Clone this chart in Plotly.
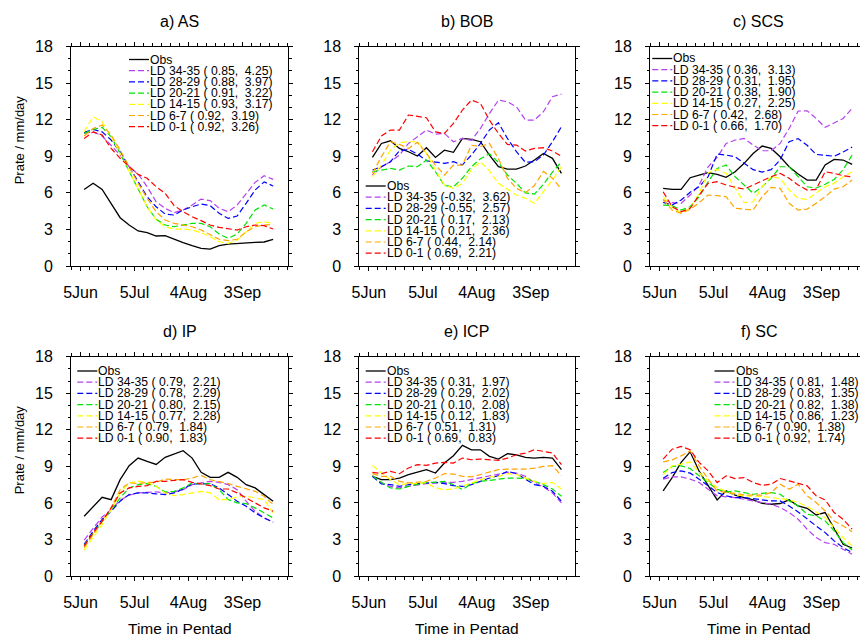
import plotly.graph_objects as go

W, H = 860, 637

# ---------------- data ----------------
pentad_day = [2, 7, 12, 17, 22, 27, 32, 37, 42, 47, 52, 57, 62, 67, 72, 77, 82, 87, 92, 97, 102, 107]  # days after 5 Jun
tick_days = [0, 30, 60, 90]
tick_labels = ["5Jun", "5Jul", "4Aug", "3Sep"]

series_names = ["Obs", "LD 34-35", "LD 28-29", "LD 20-21", "LD 14-15", "LD 6-7", "LD 0-1"]
series_colors = ["#000000", "#b441f0", "#0000ff", "#00e400", "#ffff00", "#ffa500", "#ff0000"]

AS = [
    [6.28, 6.78, 6.28, 5.14, 3.96, 3.36, 2.87, 2.73, 2.46, 2.49, 2.19, 1.91, 1.67, 1.45, 1.39, 1.67, 1.80, 1.86, 1.91, 1.94, 1.97, 2.19],
    [10.87, 11.0, 10.66, 9.92, 9.1, 8.14, 7.54, 6.5, 5.27, 4.73, 4.37, 4.6, 5.0, 5.49, 5.36, 4.73, 4.45, 5.0, 5.96, 6.86, 7.4, 7.1],
    [10.96, 11.2, 11.0, 10.33, 9.37, 8.14, 6.9, 5.68, 4.86, 4.26, 4.18, 4.6, 4.86, 5.08, 4.95, 4.32, 3.9, 4.1, 5.14, 6.23, 6.9, 6.56],
    [10.87, 11.2, 11.37, 10.6, 9.23, 7.73, 6.23, 4.86, 3.83, 3.36, 3.22, 3.36, 3.5, 3.5, 3.22, 2.62, 2.27, 2.62, 3.5, 4.6, 5.0, 4.67],
    [11.0, 12.24, 11.83, 10.6, 9.23, 7.73, 6.23, 4.86, 3.77, 3.22, 3.03, 3.03, 2.95, 2.73, 2.4, 1.99, 1.86, 2.13, 2.81, 3.5, 3.63, 3.5],
    [10.66, 11.28, 11.56, 10.74, 9.51, 8.14, 6.78, 5.55, 4.45, 3.77, 3.5, 3.36, 3.22, 2.95, 2.54, 2.19, 2.08, 2.19, 2.81, 3.22, 3.36, 3.42],
    [10.46, 11.0, 10.74, 9.64, 8.83, 8.14, 7.51, 7.19, 6.5, 5.96, 4.95, 4.45, 4.04, 3.72, 3.36, 3.17, 3.06, 2.95, 3.22, 3.36, 3.31, 3.03],
]
BOB = [
    [8.9, 10.05, 10.27, 9.64, 9.37, 9.02, 9.7, 8.9, 9.5, 9.32, 10.46, 10.38, 10.19, 9.1, 8.14, 7.95, 7.95, 8.2, 8.69, 9.23, 8.83, 7.6],
    [7.46, 8.14, 8.55, 9.1, 10.05, 10.6, 11.15, 10.82, 10.87, 10.19, 10.46, 10.3, 11.28, 12.5, 13.6, 13.47, 13.06, 11.97, 11.97, 12.65, 13.88, 14.1],
    [7.87, 8.14, 8.55, 9.45, 9.56, 9.18, 8.63, 8.55, 8.42, 8.55, 8.3, 9.1, 10.05, 11.15, 11.75, 10.46, 9.37, 8.5, 8.55, 9.1, 10.19, 11.42],
    [7.73, 7.87, 8.0, 7.87, 8.2, 8.14, 8.69, 7.73, 6.6, 6.5, 7.2, 8.14, 8.8, 9.2, 8.5, 7.46, 6.78, 6.0, 5.9, 6.7, 7.7, 8.55],
    [7.32, 8.28, 9.5, 10.1, 10.19, 10.19, 9.23, 7.87, 6.64, 6.37, 6.78, 7.9, 8.55, 7.8, 6.78, 6.28, 5.82, 5.55, 5.14, 6.1, 7.05, 8.14],
    [7.6, 8.96, 10.19, 9.97, 9.64, 10.14, 9.23, 8.28, 7.46, 8.28, 8.28, 9.9, 9.8, 10.05, 8.8, 7.2, 6.37, 6.0, 6.6, 7.75, 7.2, 6.3],
    [9.37, 10.66, 11.15, 11.15, 12.38, 12.3, 12.16, 11.0, 10.87, 11.69, 12.79, 13.6, 13.33, 11.97, 10.87, 9.97, 9.92, 9.43, 9.64, 9.7, 9.43, 9.0],
]
SCS = [
    [6.37, 6.28, 6.28, 7.24, 7.46, 7.65, 7.51, 7.27, 7.73, 8.42, 9.23, 9.84, 9.64, 8.96, 8.14, 7.54, 7.05, 7.05, 8.28, 8.74, 8.69, 8.33],
    [5.41, 5.19, 5.14, 5.82, 6.64, 8.14, 8.9, 10.05, 10.33, 10.46, 9.92, 9.45, 9.45, 10.05, 11.28, 12.7, 12.73, 12.1, 11.37, 11.75, 12.1, 12.92],
    [5.22, 5.0, 5.41, 6.04, 6.5, 7.32, 9.18, 9.1, 8.95, 8.4, 7.9, 7.7, 7.9, 8.7, 10.2, 10.45, 9.9, 9.15, 9.1, 9.0, 9.35, 9.75],
    [5.0, 4.95, 4.59, 4.86, 5.68, 6.91, 8.0, 8.28, 7.32, 6.64, 5.96, 6.5, 7.19, 8.14, 8.14, 7.32, 6.5, 6.4, 6.7, 7.1, 7.9, 9.1],
    [5.68, 4.81, 4.37, 4.73, 5.96, 7.65, 7.92, 7.6, 6.4, 5.2, 5.25, 6.5, 7.32, 7.19, 6.23, 5.55, 5.46, 5.96, 6.5, 6.78, 7.32, 7.73],
    [5.46, 4.59, 4.32, 4.64, 5.19, 5.82, 5.77, 5.68, 4.73, 4.67, 4.59, 5.68, 6.45, 6.37, 5.14, 4.59, 4.67, 5.14, 5.68, 6.31, 6.5, 7.05],
    [6.09, 4.86, 4.45, 4.73, 5.82, 6.78, 6.91, 6.64, 6.45, 6.31, 6.64, 6.99, 7.32, 7.6, 7.19, 6.64, 6.23, 6.28, 7.73, 7.6, 7.4, 7.32],
]
IP = [
    [4.91, 5.73, 6.46, 6.27, 7.91, 9.05, 9.68, 9.41, 9.16, 9.74, 10.0, 10.28, 9.68, 8.51, 8.1, 8.1, 8.51, 8.1, 7.5, 7.23, 6.68, 6.14],
    [2.95, 3.95, 4.85, 5.45, 6.22, 6.63, 6.82, 6.87, 6.9, 6.82, 6.9, 7.09, 7.5, 7.64, 7.77, 7.69, 7.5, 7.09, 6.14, 5.32, 4.77, 4.42],
    [2.59, 3.68, 4.64, 5.32, 6.14, 6.68, 6.82, 6.82, 6.74, 6.68, 6.82, 7.14, 7.55, 7.58, 7.58, 7.23, 6.68, 6.14, 5.73, 5.18, 4.77, 4.42],
    [2.51, 3.49, 4.55, 5.45, 6.41, 7.23, 7.5, 7.58, 7.36, 6.9, 6.95, 7.23, 7.64, 7.55, 7.58, 7.09, 6.27, 6.0, 5.94, 5.59, 5.18, 4.77],
    [2.13, 3.14, 4.23, 5.45, 6.82, 7.64, 7.77, 7.69, 7.36, 6.82, 6.6, 6.68, 6.82, 6.95, 6.82, 6.27, 6.27, 6.49, 6.55, 6.41, 6.27, 5.18],
    [2.32, 3.41, 4.42, 5.59, 7.09, 7.64, 7.58, 7.69, 7.69, 7.96, 7.91, 7.91, 8.04, 8.26, 7.91, 7.77, 7.58, 7.36, 7.14, 6.95, 6.55, 5.86],
    [2.45, 3.55, 4.5, 5.59, 6.82, 7.23, 7.36, 7.42, 7.77, 7.77, 7.85, 7.91, 7.69, 7.58, 7.42, 7.14, 7.14, 6.82, 6.41, 5.94, 5.59, 5.32],
]
ICP = [
    [8.18, 7.91, 7.91, 8.04, 8.32, 8.51, 8.73, 8.45, 9.27, 9.87, 10.72, 10.36, 10.36, 9.82, 9.6, 10.04, 9.95, 9.74, 9.68, 9.74, 9.68, 8.73],
    [8.24, 7.64, 7.36, 7.23, 7.36, 7.5, 7.58, 7.64, 7.64, 7.69, 7.77, 7.91, 8.04, 8.18, 8.32, 8.51, 8.45, 8.18, 7.64, 7.31, 6.82, 6.0],
    [8.18, 7.55, 7.5, 7.36, 7.5, 7.58, 7.64, 7.69, 7.58, 7.42, 7.36, 7.5, 7.77, 8.04, 8.24, 8.59, 8.4, 7.96, 7.5, 7.36, 6.95, 6.14],
    [8.24, 7.69, 7.23, 7.14, 7.36, 7.5, 7.69, 7.69, 7.77, 7.5, 7.1, 7.58, 7.77, 7.85, 7.96, 8.04, 8.04, 7.99, 7.77, 7.5, 7.14, 6.55],
    [9.08, 8.45, 7.91, 7.5, 7.58, 7.58, 7.64, 7.23, 7.09, 7.14, 7.36, 7.64, 7.91, 8.13, 8.18, 8.4, 8.32, 8.04, 7.77, 7.58, 7.69, 7.14],
    [8.4, 8.18, 8.18, 7.77, 7.64, 7.69, 7.77, 8.04, 8.4, 8.37, 8.18, 8.13, 8.32, 8.51, 8.73, 8.78, 8.78, 8.78, 8.86, 9.0, 9.05, 8.24],
    [8.51, 8.4, 8.59, 8.4, 8.86, 9.14, 9.08, 9.27, 9.33, 9.27, 9.68, 9.54, 9.6, 9.54, 9.49, 9.68, 9.95, 10.09, 10.36, 10.23, 10.09, 9.14],
]
SC = [
    [6.99, 8.08, 9.32, 10.19, 8.6, 7.4, 6.25, 6.99, 6.63, 6.44, 6.25, 5.97, 5.89, 5.95, 6.25, 5.75, 5.56, 5.01, 5.21, 3.9, 2.6, 2.3],
    [7.95, 8.14, 8.14, 7.95, 7.67, 7.12, 6.58, 6.49, 6.44, 6.3, 6.16, 6.03, 5.89, 5.62, 5.21, 4.66, 3.84, 3.15, 2.74, 2.6, 2.19, 1.78],
    [8.03, 8.49, 8.63, 8.44, 7.95, 7.4, 6.85, 6.58, 6.44, 6.44, 6.36, 6.3, 6.16, 6.16, 5.75, 5.26, 4.66, 4.11, 3.56, 2.88, 2.33, 1.92],
    [8.49, 8.99, 9.04, 8.82, 8.22, 7.67, 7.12, 6.9, 6.99, 6.85, 6.71, 6.79, 6.85, 6.71, 6.16, 5.75, 5.07, 4.93, 4.52, 3.7, 2.74, 2.14],
    [8.3, 9.04, 9.18, 9.37, 8.49, 7.81, 7.26, 6.99, 6.66, 6.58, 6.58, 6.52, 6.44, 6.36, 6.25, 6.03, 5.7, 5.26, 4.79, 3.97, 3.15, 2.47],
    [9.37, 9.53, 9.86, 10.27, 9.04, 7.95, 6.99, 6.85, 6.79, 6.66, 6.63, 6.63, 6.85, 7.53, 7.12, 7.53, 6.58, 6.03, 5.34, 4.52, 4.11, 3.64],
    [9.59, 10.41, 10.63, 10.36, 9.32, 8.63, 7.67, 8.22, 8.0, 8.08, 7.67, 7.45, 7.53, 8.0, 7.81, 7.62, 7.4, 6.58, 6.25, 5.21, 4.66, 3.84],
]

# (correlation, rmse) for the six LD lines of each region
AS_stats = [(0.85, 4.25), (0.88, 3.97), (0.91, 3.22), (0.93, 3.17), (0.92, 3.19), (0.92, 3.26)]
BOB_stats = [(-0.32, 3.62), (-0.55, 2.57), (0.17, 2.13), (0.21, 2.36), (0.44, 2.14), (0.69, 2.21)]
SCS_stats = [(0.36, 3.13), (0.31, 1.95), (0.38, 1.90), (0.27, 2.25), (0.42, 2.68), (0.66, 1.70)]
IP_stats = [(0.79, 2.21), (0.78, 2.29), (0.80, 2.15), (0.77, 2.28), (0.79, 1.84), (0.90, 1.83)]
ICP_stats = [(0.31, 1.97), (0.29, 2.02), (0.10, 2.08), (0.12, 1.83), (0.51, 1.31), (0.69, 0.83)]
SC_stats = [(0.81, 1.48), (0.83, 1.35), (0.82, 1.38), (0.86, 1.23), (0.90, 1.38), (0.92, 1.74)]

panel_titles = ["a) AS", "b) BOB", "c) SCS", "d) IP", "e) ICP", "f) SC"]

# ---------------- layout geometry (pixels) ----------------
FONT = "Liberation Sans, Arial, Helvetica, sans-serif"
col_px = [(71.0, 288.0), (359.3, 574.5), (650.0, 860.0)]
row_px = [(46.5, 266.0), (356.7, 576.0)]
PX_PER_DAY = 1.8
X_LEFT = -5.3
# legend anchor (left of sample line, y of first row) per panel
legend_px = [(129.0, 59.5), (365.7, 186.0), (652.3, 58.5), (77.3, 371.0), (365.7, 371.0), (714.5, 371.0)]
ROW_STEP = 11.2
SAMPLE_LEN = 20.0

def fx(x):
    return x / W

def fy(y):
    return 1 - y / H

panels = [
    (AS, AS_stats), (BOB, BOB_stats), (SCS, SCS_stats),
    (IP, IP_stats), (ICP, ICP_stats), (SC, SC_stats),
]

fig = go.Figure()
annotations = []
shapes = []
DASH = "6px,3px"

for p, (vals, stats) in enumerate(panels):
    r, c = divmod(p, 3)
    ax_id = "" if p == 0 else str(p + 1)
    x0, x1 = col_px[c]
    y0, y1 = row_px[r]
    for s, ys in enumerate(vals):
        fig.add_trace(go.Scatter(
            x=pentad_day, y=ys, mode="lines",
            line=dict(color=series_colors[s], width=1.3 if s == 0 else 1.2,
                      dash="solid" if s == 0 else DASH),
            showlegend=False, xaxis="x" + ax_id, yaxis="y" + ax_id,
            hoverinfo="skip",
        ))
    common = dict(showline=True, linecolor="black", linewidth=1, ticks="outside",
                  tickcolor="black", tickwidth=1, ticklen=4, showgrid=False, zeroline=False,
                  automargin=False,
                  tickfont=dict(family=FONT, size=16, color="black"))
    fig.layout["xaxis" + ax_id] = dict(
        domain=[fx(x0), fx(x1)], anchor="y" + ax_id,
        range=[X_LEFT, X_LEFT + (x1 - x0) / PX_PER_DAY],
        tickmode="array", tickvals=tick_days, ticktext=tick_labels,
        mirror="ticks", ticklabelstandoff=8,
        minor=dict(tick0=0, dtick=5, ticklen=2.5, ticks="outside", tickcolor="black", showgrid=False),
        **common)
    fig.layout["yaxis" + ax_id] = dict(
        domain=[fy(y1), fy(y0)], anchor="x" + ax_id,
        range=[0, 18], tickmode="linear", tick0=0, dtick=3,
        mirror="ticks" if c < 2 else False, ticklabelstandoff=10,
        minor=dict(tick0=0, dtick=1, ticklen=2.5, ticks="outside", tickcolor="black", showgrid=False),
        **common)

    # panel title
    annotations.append(dict(text=panel_titles[p], xref="paper", yref="paper",
                            x=fx((x0 + (867 if c == 2 else x1)) / 2), y=fy(y0 - 25),
                            xanchor="center", yanchor="middle", showarrow=False,
                            font=dict(family=FONT, size=16, color="black")))
    # legend
    lx, ly = legend_px[p]
    for s in range(7):
        yy = ly + s * ROW_STEP
        shapes.append(dict(type="line", xref="paper", yref="paper",
                           x0=fx(lx), x1=fx(lx + SAMPLE_LEN), y0=fy(yy), y1=fy(yy),
                           line=dict(color=series_colors[s], width=1.3 if s == 0 else 1.2,
                                     dash="solid" if s == 0 else DASH)))
        if s == 0:
            label = series_names[0]
        else:
            rr, ee = stats[s - 1]
            label = f"{series_names[s]} ({rr:5.2f}, {ee:5.2f})".replace(" ", "\u00a0")
        annotations.append(dict(text=label, xref="paper", yref="paper",
                                x=fx(lx + SAMPLE_LEN), y=fy(yy), xanchor="left", yanchor="middle",
                                showarrow=False, borderpad=0,
                                font=dict(family=FONT, size=12.2, color="black")))

# axis titles
for r in range(2):
    annotations.append(dict(text="Prate / mm/day", xref="paper", yref="paper",
                            x=fx(19.3), y=fy(140 if r == 0 else 450), textangle=-90,
                            xanchor="center", yanchor="middle", showarrow=False,
                            font=dict(family=FONT, size=13, color="black")))
for c in range(3):
    x0, x1 = col_px[c]
    cx = (x0 + (867 if c == 2 else x1)) / 2
    annotations.append(dict(text="Time in Pentad", xref="paper", yref="paper",
                            x=fx(cx), y=fy(628), xanchor="center", yanchor="middle",
                            showarrow=False, font=dict(family=FONT, size=15.5, color="black")))

fig.update_layout(width=W, height=H,
                  margin=dict(l=0, r=0, t=0, b=0, pad=0, autoexpand=False),
                  paper_bgcolor="white", plot_bgcolor="white",
                  annotations=annotations, shapes=shapes, showlegend=False,
                  font=dict(family=FONT))

# pin the figure to the page's top-left corner so the 860x637 window shows it 1:1
pin_page = (
    "document.documentElement.style.margin='0';document.documentElement.style.overflow='hidden';"
    "document.body.style.margin='0';document.body.style.overflow='hidden';"
    "var gd=document.getElementById('{plot_id}');"
    "gd.style.position='fixed';gd.style.left='0px';gd.style.top='0px';"
)
fig.write_html("out.html", post_script=pin_page,
               config={"displayModeBar": False, "staticPlot": True})
